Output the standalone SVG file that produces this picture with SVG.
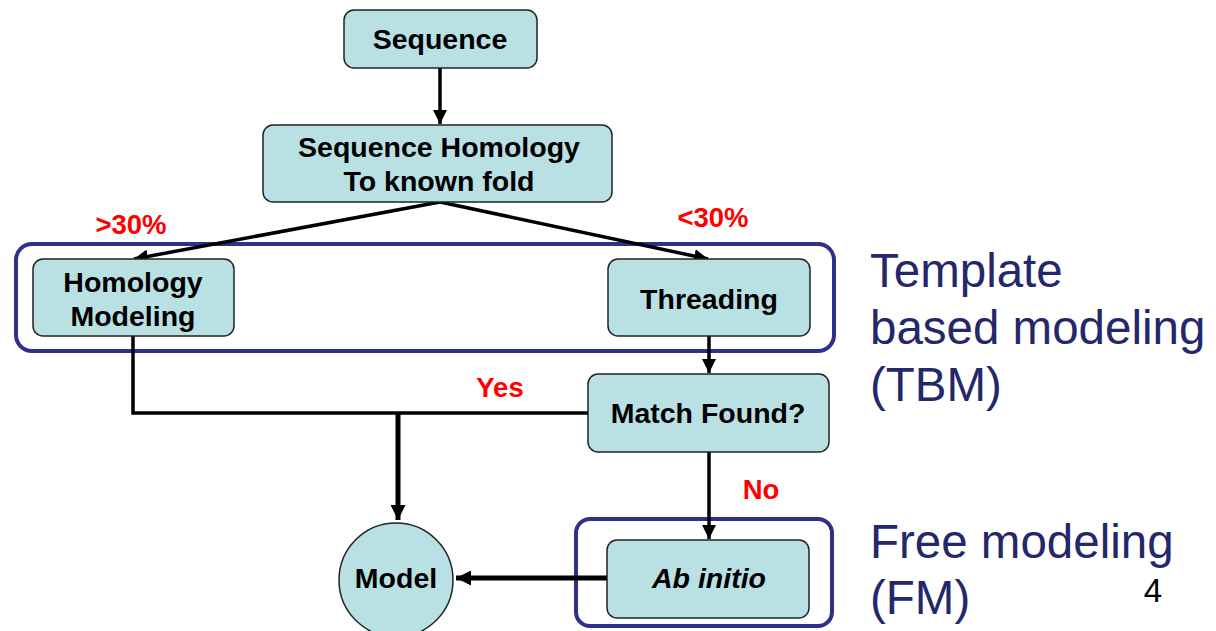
<svg xmlns="http://www.w3.org/2000/svg" width="1216" height="631" viewBox="0 0 1216 631">
<style>
.box{fill:#b9e0e3;stroke:#222;stroke-width:1.5}
.t{font-family:"Liberation Sans",Arial,sans-serif;font-weight:bold;font-size:28.5px;fill:#000;text-anchor:middle}
.lbl{font-family:"Liberation Sans",Arial,sans-serif;font-weight:bold;font-size:27.5px;fill:#ff0000;text-anchor:middle}
.side{font-family:"Liberation Sans",Arial,sans-serif;font-size:47.5px;fill:#25276b}
.grp{fill:none;stroke:#2e3089;stroke-width:4}
.c{fill:none;stroke:#000;stroke-width:3.5}
.ck{fill:none;stroke:#000;stroke-width:5}
</style>
<defs>
<marker id="ah" viewBox="0 0 10 10" refX="10" refY="5" markerWidth="4" markerHeight="4" orient="auto" markerUnits="strokeWidth">
<path d="M0,0 L10,5 L0,10 z" fill="#000"/>
</marker>
<marker id="ahk" viewBox="0 0 10 10" refX="10" refY="5" markerWidth="3" markerHeight="3" orient="auto" markerUnits="strokeWidth">
<path d="M0,0 L10,5 L0,10 z" fill="#000"/>
</marker>
</defs>
<g id="groups">
<rect class="grp" x="16" y="244" width="818" height="107" rx="16"/>
<rect class="grp" x="576" y="519" width="256" height="107" rx="14"/>
</g>
<g id="connectors">
<line class="c" x1="440" y1="68" x2="440" y2="124" marker-end="url(#ah)"/>
<line class="c" x1="440" y1="202" x2="134" y2="259" marker-end="url(#ah)"/>
<line class="c" x1="440" y1="202" x2="708" y2="259" marker-end="url(#ah)"/>
<line class="c" x1="709" y1="336" x2="709" y2="373" marker-end="url(#ah)"/>
<polyline class="c" points="133,336 133,413 588,413"/>
<line class="ck" x1="398" y1="413" x2="398" y2="520" marker-end="url(#ahk)"/>
<line class="c" x1="709" y1="452" x2="709" y2="539" marker-end="url(#ah)"/>
<line class="ck" x1="607" y1="578" x2="456" y2="578" marker-end="url(#ahk)"/>
</g>
<g id="labels">
<text class="lbl" x="131" y="234">&gt;30%</text>
<text class="lbl" x="713" y="227">&lt;30%</text>
<text class="lbl" x="500" y="397">Yes</text>
<text class="lbl" x="761" y="499">No</text>
</g>
<g id="sequence">
<rect class="box" x="344" y="10" width="193" height="58" rx="10"/>
<text class="t" x="440" y="49">Sequence</text>
</g>
<g id="homology">
<rect class="box" x="263" y="125" width="349" height="77" rx="10"/>
<text class="t" x="439" y="157">Sequence Homology</text>
<text class="t" x="439" y="191">To known fold</text>
</g>
<g id="homology-modeling">
<rect class="box" x="33" y="259" width="201" height="77" rx="10"/>
<text class="t" x="133" y="292">Homology</text>
<text class="t" x="133" y="326">Modeling</text>
</g>
<g id="threading">
<rect class="box" x="608" y="259" width="202" height="77" rx="10"/>
<text class="t" x="709" y="309">Threading</text>
</g>
<g id="match-found">
<rect class="box" x="588" y="374" width="241" height="78" rx="10"/>
<text class="t" x="708" y="423">Match Found?</text>
</g>
<g id="ab-initio">
<rect class="box" x="607" y="540" width="202" height="78" rx="10"/>
<text class="t" x="709" y="588" font-style="italic">Ab initio</text>
</g>
<g id="model">
<circle class="box" cx="396" cy="580" r="57"/>
<text class="t" x="396" y="588">Model</text>
</g>
<g id="side-text">
<text class="side" x="870" y="287">Template</text>
<text class="side" x="870" y="344">based modeling</text>
<text class="side" x="870" y="401">(TBM)</text>
<text class="side" x="870" y="558">Free modeling</text>
<text class="side" x="870" y="614">(FM)</text>
<text x="1153" y="602" font-family="'Liberation Sans',Arial,sans-serif" font-size="33" text-anchor="middle" fill="#000">4</text>
</g>
</svg>
